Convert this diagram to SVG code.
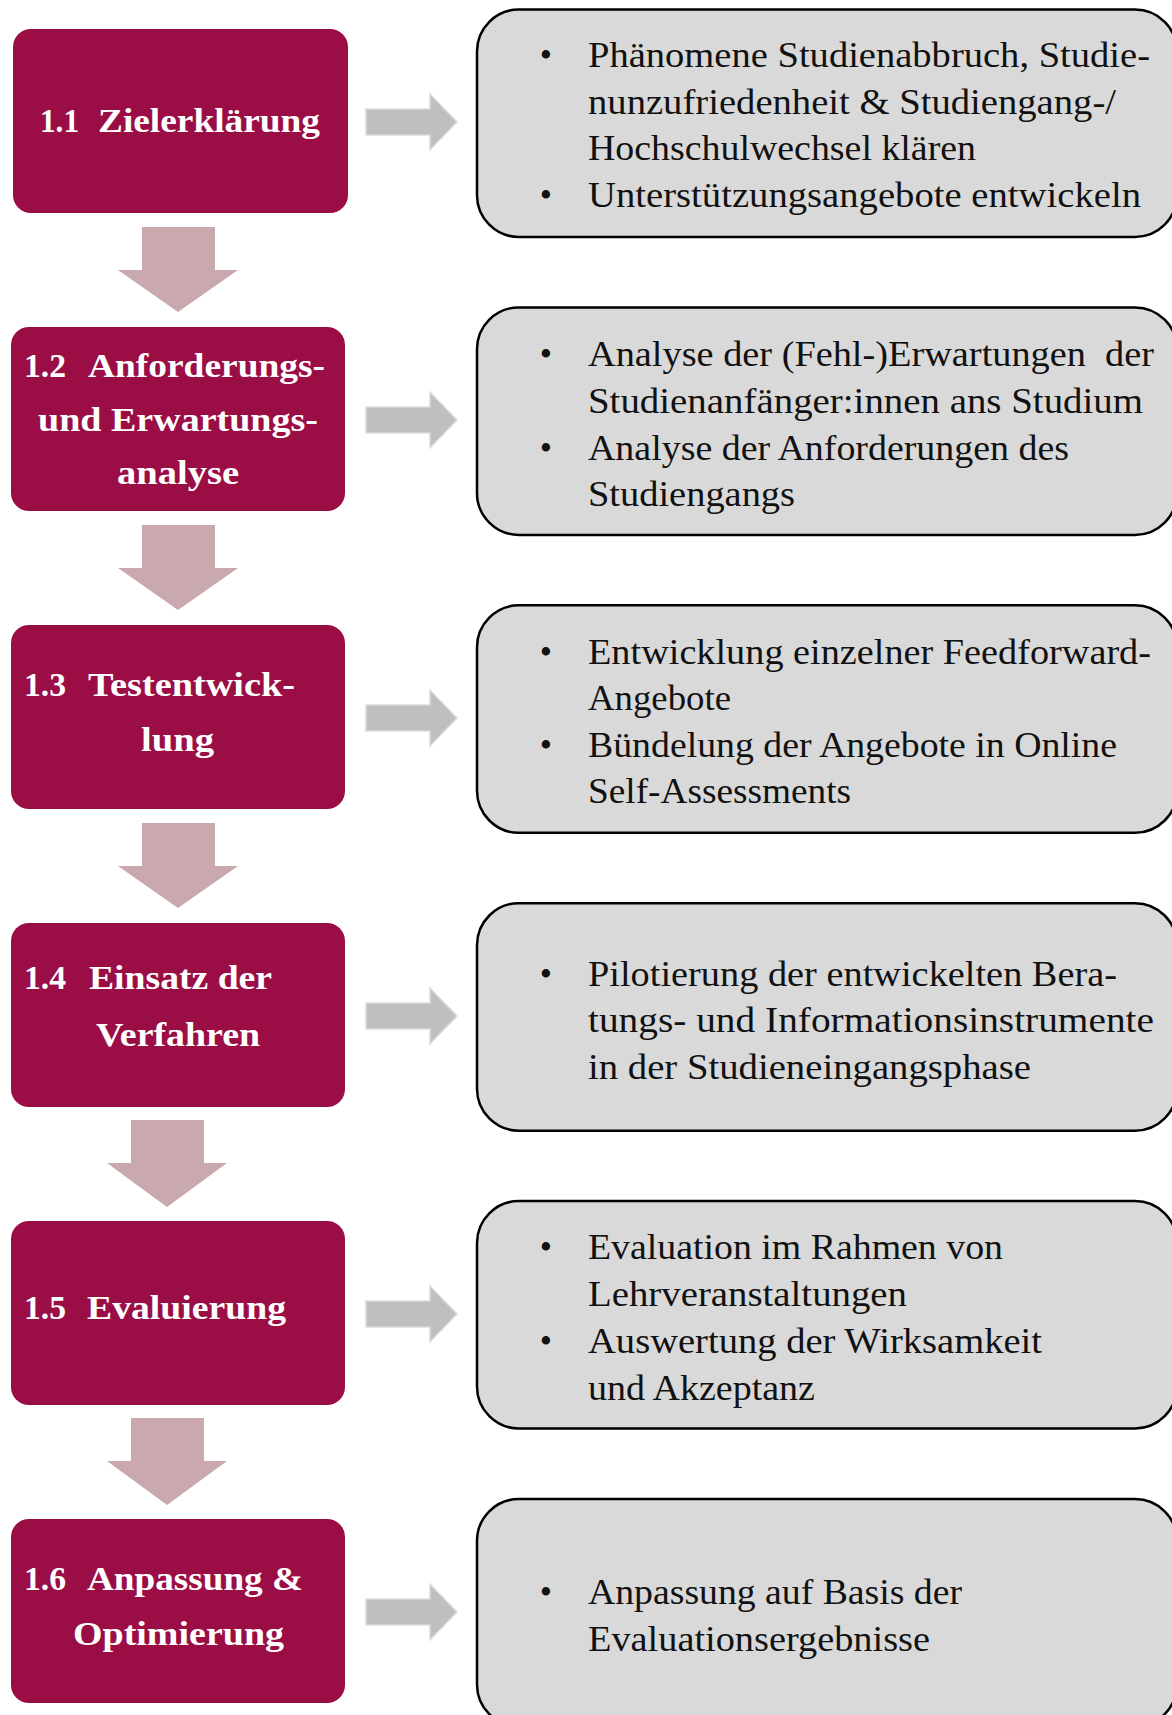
<svg xmlns="http://www.w3.org/2000/svg" width="1172" height="1715" viewBox="0 0 1172 1715">
<style>
.step{fill:#9a0e45}
.title{font-family:"Liberation Serif","Times New Roman",serif;font-weight:bold;font-size:34px;fill:#ffffff}
.info{fill:#d9d9d9;stroke:#000;stroke-width:2.5}
.txt{font-family:"Liberation Serif","Times New Roman",serif;font-size:35px;fill:#111}
.bul{font-family:"Liberation Serif","Times New Roman",serif;font-size:35px;fill:#111;text-anchor:middle}
.down{fill:#c9a8ae}
.right{fill:#bfbfbf;stroke:#dcdcdc;stroke-width:1.5}
</style>
<defs>
<path id="rarr" d="M366,-13 H430 V-28 L457,0 L430,28 V13 H366 Z"/>
</defs>
<rect width="1172" height="1715" fill="#ffffff"/>

<g id="connectors">
<path class="down" d="M142,227 H215 V270 H238 L178,312 L118,270 H142 Z"/>
<path class="down" d="M142,525 H215 V568 H238 L178,610 L118,568 H142 Z"/>
<path class="down" d="M142,823 H215 V866 H238 L178,908 L118,866 H142 Z"/>
<path class="down" d="M131,1120 H204 V1163 H227 L167,1207 L107,1163 H131 Z"/>
<path class="down" d="M131,1418 H204 V1461 H227 L167,1505 L107,1461 H131 Z"/>
<use href="#rarr" class="right" transform="translate(0,122)"/>
<use href="#rarr" class="right" transform="translate(0,420)"/>
<use href="#rarr" class="right" transform="translate(0,718)"/>
<use href="#rarr" class="right" transform="translate(0,1016)"/>
<use href="#rarr" class="right" transform="translate(0,1314)"/>
<use href="#rarr" class="right" transform="translate(0,1612)"/>
</g>

<g id="step1">
<rect class="step" x="13" y="29" width="335" height="184" rx="18"/>
<text class="title" y="131.5"><tspan x="40" textLength="39" lengthAdjust="spacingAndGlyphs">1.1</tspan><tspan x="98" textLength="222" lengthAdjust="spacingAndGlyphs">Zielerklärung</tspan></text>
</g>
<g id="step2">
<rect class="step" x="11" y="327" width="334" height="184" rx="18"/>
<text class="title" y="377"><tspan x="24" textLength="42" lengthAdjust="spacingAndGlyphs">1.2</tspan><tspan x="88" textLength="237" lengthAdjust="spacingAndGlyphs">Anforderungs-</tspan></text>
<text class="title" x="38" y="430.5" textLength="280" lengthAdjust="spacingAndGlyphs">und Erwartungs-</text>
<text class="title" x="117" y="484" textLength="122" lengthAdjust="spacingAndGlyphs">analyse</text>
</g>
<g id="step3">
<rect class="step" x="11" y="625" width="334" height="184" rx="18"/>
<text class="title" y="696"><tspan x="24" textLength="42" lengthAdjust="spacingAndGlyphs">1.3</tspan><tspan x="88" textLength="207" lengthAdjust="spacingAndGlyphs">Testentwick-</tspan></text>
<text class="title" x="141" y="750.5" textLength="73" lengthAdjust="spacingAndGlyphs">lung</text>
</g>
<g id="step4">
<rect class="step" x="11" y="923" width="334" height="184" rx="18"/>
<text class="title" y="989"><tspan x="24" textLength="42" lengthAdjust="spacingAndGlyphs">1.4</tspan><tspan x="89" textLength="183" lengthAdjust="spacingAndGlyphs">Einsatz der</tspan></text>
<text class="title" x="96" y="1046" textLength="164" lengthAdjust="spacingAndGlyphs">Verfahren</text>
</g>
<g id="step5">
<rect class="step" x="11" y="1221" width="334" height="184" rx="18"/>
<text class="title" y="1319"><tspan x="24" textLength="42" lengthAdjust="spacingAndGlyphs">1.5</tspan><tspan x="87" textLength="199" lengthAdjust="spacingAndGlyphs">Evaluierung</tspan></text>
</g>
<g id="step6">
<rect class="step" x="11" y="1519" width="334" height="184" rx="18"/>
<text class="title" y="1590"><tspan x="24" textLength="42" lengthAdjust="spacingAndGlyphs">1.6</tspan><tspan x="87" textLength="216" lengthAdjust="spacingAndGlyphs">Anpassung &amp;</tspan></text>
<text class="title" x="73" y="1645" textLength="211" lengthAdjust="spacingAndGlyphs">Optimierung</text>
</g>

<g id="info1">
<rect class="info" x="477" y="9.5" width="700" height="227.5" rx="42"/>
<text class="bul" x="546" y="67">•</text>
<text class="txt" x="588" y="67" textLength="562" lengthAdjust="spacingAndGlyphs">Phänomene Studienabbruch, Studie-</text>
<text class="txt" x="588" y="113.7" textLength="528" lengthAdjust="spacingAndGlyphs">nunzufriedenheit &amp; Studiengang-/</text>
<text class="txt" x="588" y="160.4" textLength="388" lengthAdjust="spacingAndGlyphs">Hochschulwechsel klären</text>
<text class="bul" x="546" y="207.1">•</text>
<text class="txt" x="588" y="207.1" textLength="553" lengthAdjust="spacingAndGlyphs">Unterstützungsangebote entwickeln</text>
</g>
<g id="info2">
<rect class="info" x="477" y="307.4" width="700" height="227.5" rx="42"/>
<text class="bul" x="546" y="365.6">•</text>
<text class="txt" x="588" y="365.6" textLength="566" lengthAdjust="spacingAndGlyphs" xml:space="preserve">Analyse der (Fehl-)Erwartungen  der</text>
<text class="txt" x="588" y="412.6" textLength="555" lengthAdjust="spacingAndGlyphs">Studienanfänger:innen ans Studium</text>
<text class="bul" x="546" y="459.7">•</text>
<text class="txt" x="588" y="459.7" textLength="481" lengthAdjust="spacingAndGlyphs">Analyse der Anforderungen des</text>
<text class="txt" x="588" y="505.6" textLength="207" lengthAdjust="spacingAndGlyphs">Studiengangs</text>
</g>
<g id="info3">
<rect class="info" x="477" y="605.3" width="700" height="227.5" rx="42"/>
<text class="bul" x="546" y="664">•</text>
<text class="txt" x="588" y="664" textLength="563" lengthAdjust="spacingAndGlyphs">Entwicklung einzelner Feedforward-</text>
<text class="txt" x="588" y="710" textLength="143" lengthAdjust="spacingAndGlyphs">Angebote</text>
<text class="bul" x="546" y="757">•</text>
<text class="txt" x="588" y="757" textLength="529" lengthAdjust="spacingAndGlyphs">Bündelung der Angebote in Online</text>
<text class="txt" x="588" y="803" textLength="263" lengthAdjust="spacingAndGlyphs">Self-Assessments</text>
</g>
<g id="info4">
<rect class="info" x="477" y="903.2" width="700" height="227.5" rx="42"/>
<text class="bul" x="546" y="985.5">•</text>
<text class="txt" x="588" y="985.5" textLength="529" lengthAdjust="spacingAndGlyphs">Pilotierung der entwickelten Bera-</text>
<text class="txt" x="588" y="1031.5" textLength="566" lengthAdjust="spacingAndGlyphs">tungs- und Informationsinstrumente</text>
<text class="txt" x="588" y="1078.5" textLength="443" lengthAdjust="spacingAndGlyphs">in der Studieneingangsphase</text>
</g>
<g id="info5">
<rect class="info" x="477" y="1201" width="700" height="227.5" rx="42"/>
<text class="bul" x="546" y="1259">•</text>
<text class="txt" x="588" y="1259" textLength="415" lengthAdjust="spacingAndGlyphs">Evaluation im Rahmen von</text>
<text class="txt" x="588" y="1306" textLength="319" lengthAdjust="spacingAndGlyphs">Lehrveranstaltungen</text>
<text class="bul" x="546" y="1353">•</text>
<text class="txt" x="588" y="1353" textLength="454" lengthAdjust="spacingAndGlyphs">Auswertung der Wirksamkeit</text>
<text class="txt" x="588" y="1400" textLength="227" lengthAdjust="spacingAndGlyphs">und Akzeptanz</text>
</g>
<g id="info6">
<rect class="info" x="477" y="1499" width="700" height="227.5" rx="42"/>
<text class="bul" x="546" y="1604.3">•</text>
<text class="txt" x="588" y="1604.3" textLength="374" lengthAdjust="spacingAndGlyphs">Anpassung auf Basis der</text>
<text class="txt" x="588" y="1651.4" textLength="342" lengthAdjust="spacingAndGlyphs">Evaluationsergebnisse</text>
</g>
</svg>
